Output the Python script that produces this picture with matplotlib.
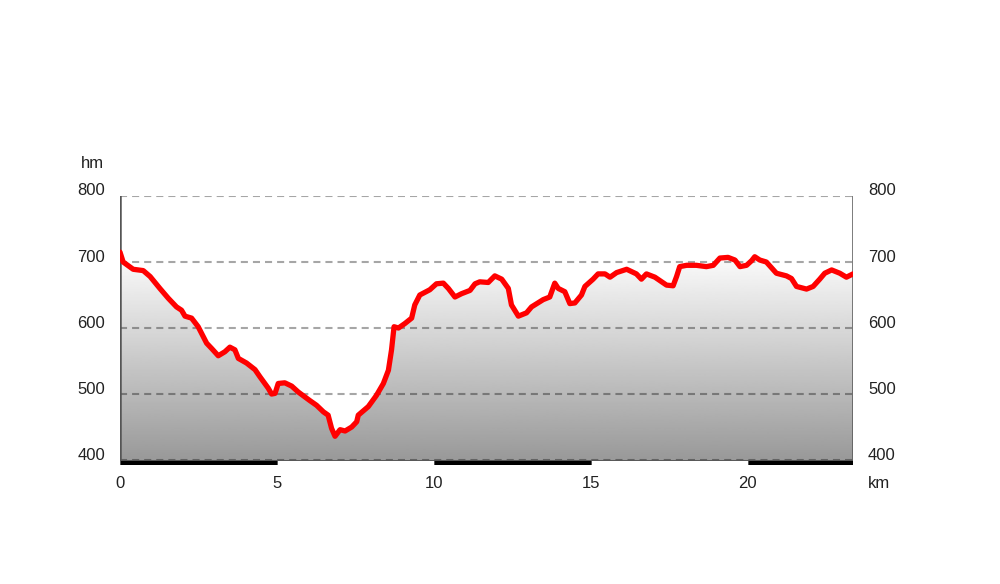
import numpy as np
import matplotlib
matplotlib.use('Agg')
import matplotlib.pyplot as plt
from matplotlib.patches import Rectangle
import matplotlib.transforms as mtransforms

plt.rcParams['font.family'] = ['Liberation Sans', 'DejaVu Sans']

# profile: distance (km), elevation (m)
km = [0.00, 0.10, 0.42, 0.74, 0.96, 1.27, 1.54, 1.80, 1.96, 2.07, 2.28, 2.49,
      2.76, 2.92, 3.13, 3.34, 3.50, 3.66, 3.77, 4.03, 4.30, 4.46, 4.72, 4.83,
      4.94, 5.04, 5.25, 5.47, 5.68, 6.05, 6.26, 6.48, 6.63, 6.74, 6.85, 7.01,
      7.17, 7.38, 7.54, 7.59, 7.91, 8.17, 8.39, 8.55, 8.65, 8.73, 8.87, 9.08,
      9.29, 9.39, 9.55, 9.87, 10.08, 10.30, 10.46, 10.67, 10.88, 11.15, 11.31,
      11.46, 11.73, 11.94, 12.16, 12.37, 12.47, 12.69, 12.95, 13.11, 13.48,
      13.69, 13.85, 13.96, 14.17, 14.33, 14.49, 14.70, 14.81, 15.07, 15.23,
      15.45, 15.61, 15.82, 16.14, 16.45, 16.61, 16.77, 17.04, 17.41, 17.62,
      17.73, 17.83, 18.05, 18.36, 18.68, 18.90, 19.11, 19.37, 19.59, 19.75,
      19.96, 20.12, 20.22, 20.38, 20.59, 20.91, 21.23, 21.39, 21.55, 21.87,
      22.08, 22.29, 22.45, 22.67, 22.93, 23.14, 23.35]
elev = [715, 700, 689, 687, 678, 660, 645, 632, 627, 618, 615, 602,
        577, 569, 558, 564, 571, 567, 554, 547, 537, 526, 509, 500,
        501, 516, 517, 512, 503, 490, 483, 473, 468, 448, 436, 446,
        444, 450, 458, 468, 481, 498, 516, 536, 567, 602, 600, 607,
        615, 635, 650, 658, 667, 668, 660, 647, 652, 657, 667,
        670, 669, 679, 674, 660, 635, 618, 623, 632, 643,
        647, 668, 660, 655, 637, 638, 650, 663, 674, 682,
        682, 677, 684, 689, 682, 674, 682, 677, 665, 664,
        678, 693, 695, 695, 693, 695, 706, 707, 703, 693,
        695, 702, 708, 703, 700, 683, 679, 675, 663, 659,
        663, 674, 683, 688, 683, 677, 682]

y_ticks = [400, 500, 600, 700, 800]
x_ticks = [0, 5, 10, 15, 20]
x_max = 23.35
y_bot = 392.5

fig = plt.figure(figsize=(10, 5.84), dpi=100)
ax = fig.add_axes([0.12, 1 - 465 / 584, 0.733, 269 / 584])
ax.set_xlim(0, x_max)
ax.set_ylim(y_bot, 800)
ax.axis('off')

# gradient fill under the profile
grad = np.linspace(0.6, 1.0, 256).reshape(-1, 1)
img = ax.imshow(grad, cmap='gray', vmin=0, vmax=1, origin='lower', aspect='auto',
                extent=[0, x_max, 400, 720], zorder=1)
poly = ax.fill_between(km, elev, 400, color='none', lw=0)
img.set_clip_path(poly.get_paths()[0], transform=ax.transData)

# dashed grid
for v in y_ticks:
    ax.plot([0, x_max], [v, v], color='black', alpha=0.35, lw=1.5,
            ls=(0, (3.4, 2.4)), zorder=2)

# side axes
ax.plot([0, 0], [400, 800], color='#555555', lw=1.8, zorder=3)
ax.plot([x_max, x_max], [400, 800], color='#555555', lw=1.8, zorder=3)

# profile line
ax.plot(km, elev, color='#ff0000', lw=3.8, solid_joinstyle='round',
        solid_capstyle='round', zorder=4)

# distance bar
edges = x_ticks + [x_max]
for i in range(len(edges) - 1):
    fc = 'black' if i % 2 == 0 else 'white'
    ax.add_patch(Rectangle((edges[i], y_bot), edges[i + 1] - edges[i], 400 - y_bot,
                           facecolor=fc, edgecolor='#555555', lw=0.7, zorder=5))

# labels
for v in y_ticks:
    ax.text(0, v, str(v), transform=mtransforms.offset_copy(ax.transData, fig=fig, x=-15, y=5, units='dots'),
            ha='right', va='center', fontsize=12, color='#222222')
    ax.text(x_max, v, str(v), transform=mtransforms.offset_copy(ax.transData, fig=fig, x=15, y=5, units='dots'),
            ha='left', va='center', fontsize=12, color='#222222')
for v in x_ticks:
    fig.text((120 + v * (733 / x_max)) / 1000, 1 - 484 / 584, str(v),
             ha='center', va='center', fontsize=12, color='#222222')
fig.text(0.868, 1 - 484 / 584, 'km', ha='left', va='center', fontsize=12, color='#222222')
fig.text(0.092, 1 - 164 / 584, 'hm', ha='center', va='center', fontsize=12, color='#222222')

fig.savefig('out.png', dpi=100)
